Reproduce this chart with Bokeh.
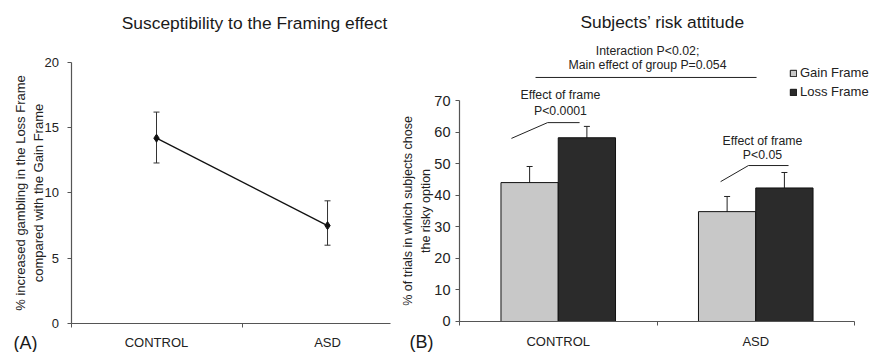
from bokeh.plotting import figure
from bokeh.layouts import row
from bokeh.models import (Range1d, FixedTicker, Whisker, TeeHead, ColumnDataSource,
                          Label, Legend, LegendItem)
from bokeh.embed import file_html
from bokeh.resources import INLINE

# ---------------- data ----------------
groups = ["CONTROL", "ASD"]

# Panel A: % increased gambling in Loss vs Gain frame
framing_effect = [14.2, 7.5]
framing_lower = [12.3, 6.0]
framing_upper = [16.2, 9.4]
a_yticks = [0, 5, 10, 15, 20]

# Panel B: % of trials choosing the risky option
gain = [44.0, 34.8]
gain_lower = [38.9, 29.8]
gain_upper = [49.1, 39.6]
loss = [58.2, 42.3]
loss_lower = [54.5, 37.4]
loss_upper = [61.8, 47.2]
b_yticks = [0, 10, 20, 30, 40, 50, 60, 70]

FONT = "Liberation Sans"
TEXT = "#222222"
AXIS = "#555555"
GAIN_COL = "#c8c8c8"
LOSS_COL = "#2b2b2b"

xs = [i + 1 for i in range(len(groups))]
labels = {x: g for x, g in zip(xs, groups)}
mids = [x + 0.5 for x in xs[:-1]]


def style_axes(p, y_label_size, y_tick_size, y_line_height):
    p.outline_line_color = None
    p.grid.visible = False
    for ax in (p.xaxis[0], p.yaxis[0]):
        ax.axis_line_color = AXIS
        ax.axis_line_width = 1.2
        ax.major_tick_line_color = AXIS
        ax.minor_tick_line_color = AXIS
        ax.major_label_text_font = FONT
        ax.major_label_text_color = TEXT
        ax.axis_label_text_font = FONT
        ax.axis_label_text_color = TEXT
        ax.axis_label_text_font_style = "normal"
    p.xaxis.fixed_location = 0
    p.yaxis.fixed_location = 0.5
    p.xaxis.major_label_overrides = labels
    p.xaxis.major_tick_in = 0
    p.xaxis.major_tick_out = 0
    p.xaxis.major_tick_line_color = None
    p.xaxis.minor_tick_in = 0
    p.xaxis.minor_tick_out = 4
    p.xaxis.major_label_text_font_size = "13px"
    p.yaxis.major_tick_in = 0
    p.yaxis.major_tick_out = 4
    p.yaxis.minor_tick_line_color = None
    p.yaxis.major_label_text_font_size = y_tick_size
    p.yaxis.axis_label_text_font_size = y_label_size
    p.yaxis.axis_label_text_line_height = y_line_height


def add_label(p, x, y, text, size="12.3px", align="center", color=TEXT):
    p.add_layout(Label(x=x, y=y, text=text, text_align=align, text_baseline="middle",
                       text_font=FONT, text_font_size=size, text_color=color))


# ---------------- Panel A ----------------
pa = figure(width=392, height=352, x_range=Range1d(0.0877, 2.380), y_range=Range1d(-2.222, 24.75),
            output_backend="svg", toolbar_location=None,
            min_border_left=0, min_border_right=0, min_border_top=0, min_border_bottom=0)
style_axes(pa, "13px", "13px", 1.23)
pa.xaxis.ticker = FixedTicker(ticks=xs, minor_ticks=[0.5] + mids)
pa.xaxis.bounds = (0.5, 2.37)
pa.xaxis.major_label_standoff = 7
pa.yaxis.ticker = FixedTicker(ticks=a_yticks, minor_ticks=[])
pa.yaxis.bounds = (0, 20)
pa.yaxis.axis_label = "% increased gambling in the Loss Frame\ncompared with the Gain Frame"
pa.yaxis.major_label_standoff = 8
pa.yaxis.axis_label_standoff = -4

src_a = ColumnDataSource(dict(x=xs, y=framing_effect, lo=framing_lower, up=framing_upper))
pa.line("x", "y", source=src_a, line_color="#111111", line_width=1.3)
pa.add_layout(Whisker(base="x", lower="lo", upper="up", source=src_a, line_color="#333333",
                      line_width=1,
                      upper_head=TeeHead(size=6, line_color="#333333", line_width=1),
                      lower_head=TeeHead(size=6, line_color="#333333", line_width=1)))
pa.scatter("x", "y", source=src_a, marker="diamond", size=8, color="#111111")

add_label(pa, 1.573, 22.99, "Susceptibility to the Framing effect", size="17.4px", color="#1a1a1a")
add_label(pa, 0.164, -1.456, "(A)", size="18px", align="left", color="#1a1a1a")

# ---------------- Panel B ----------------
pb = figure(width=479, height=352, x_range=Range1d(0.1608, 2.586), y_range=Range1d(-9.82, 101.68),
            output_backend="svg", toolbar_location=None,
            min_border_left=0, min_border_right=0, min_border_top=0, min_border_bottom=0)
style_axes(pb, "12.5px", "14.5px", 1.28)
pb.xaxis.ticker = FixedTicker(ticks=xs, minor_ticks=[0.5] + mids + [xs[-1] + 0.5])
pb.xaxis.bounds = (0.5, 2.5)
pb.xaxis.major_label_standoff = 9
pb.yaxis.ticker = FixedTicker(ticks=b_yticks, minor_ticks=[])
pb.yaxis.bounds = (0, 70)
pb.yaxis.axis_label = "% of trials in which subjects chose\nthe risky option"
pb.yaxis.major_label_standoff = 5
pb.yaxis.axis_label_standoff = -2

bw = 0.29
src_gain = ColumnDataSource(dict(x=[x - bw / 2 for x in xs], top=gain, lo=gain_lower, up=gain_upper))
src_loss = ColumnDataSource(dict(x=[x + bw / 2 for x in xs], top=loss, lo=loss_lower, up=loss_upper))
r_gain = pb.vbar(x="x", top="top", width=bw, source=src_gain, fill_color=GAIN_COL,
                 line_color="#111111", line_width=1)
r_loss = pb.vbar(x="x", top="top", width=bw, source=src_loss, fill_color=LOSS_COL,
                 line_color="#111111", line_width=1)
for s in (src_gain, src_loss):
    pb.add_layout(Whisker(base="x", lower="lo", upper="up", source=s, line_color="#222222",
                          line_width=1,
                          upper_head=TeeHead(size=6, line_color="#222222", line_width=1),
                          lower_head=TeeHead(size=6, line_color="#222222", line_width=1)))

legend = Legend(items=[LegendItem(label="Gain Frame", renderers=[r_gain]),
                       LegendItem(label="Loss Frame", renderers=[r_loss])],
                location=(397, 253), orientation="vertical",
                background_fill_alpha=0, border_line_color=None, padding=0, margin=0,
                spacing=4, glyph_width=8, glyph_height=8, label_height=15,
                label_standoff=3, label_text_font=FONT, label_text_font_size="13px",
                label_text_color=TEXT)
pb.add_layout(legend)

# annotations
add_label(pb, 1.528, 95.0, "Subjects\u2019 risk attitude", size="17.4px", color="#1a1a1a")
add_label(pb, 1.452, 85.8, "Interaction P<0.02;")
add_label(pb, 1.452, 81.1, "Main effect of group P=0.054")
pb.line([0.885, 2.004], [77.3, 77.3], line_color="#222222", line_width=1)

add_label(pb, 1.011, 71.6, "Effect of frame")
add_label(pb, 1.011, 66.8, "P<0.0001")
pb.line([0.763, 0.946, 1.108], [58.0, 63.0, 63.0], line_color="#222222", line_width=1)

add_label(pb, 2.034, 57.3, "Effect of frame")
add_label(pb, 2.034, 52.6, "P<0.05")
pb.line([1.822, 1.963, 2.166], [44.3, 49.4, 49.4], line_color="#222222", line_width=1)

add_label(pb, 0.247, -6.65, "(B)", size="18px", align="left", color="#1a1a1a")

layout = row(pa, pb, spacing=0)
open("out.html", "w").write(file_html(layout, INLINE))
